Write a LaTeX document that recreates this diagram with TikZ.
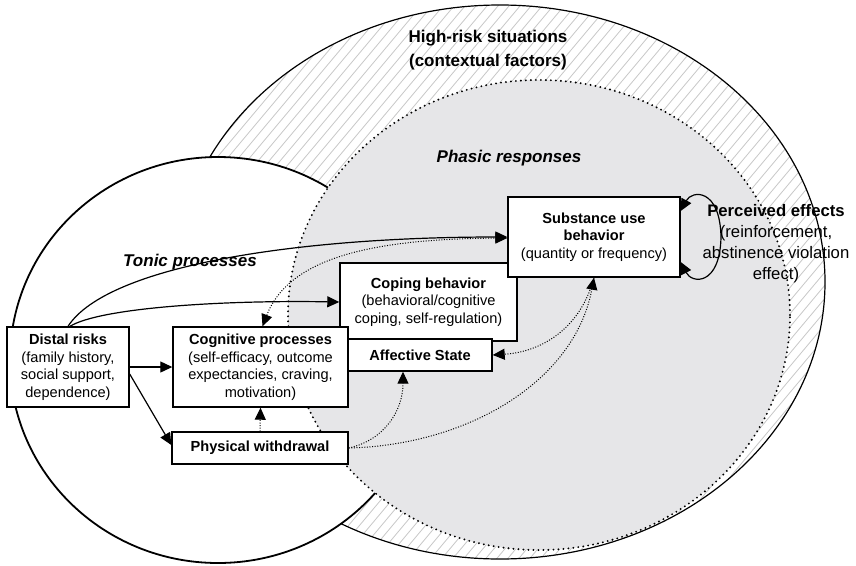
\documentclass[tikz,border=0pt]{standalone}
\usepackage{fontspec}
\setmainfont{Liberation Sans}
\usetikzlibrary{arrows.meta}
\definecolor{phasicgray}{RGB}{230,230,232}
\definecolor{hatchgray}{RGB}{200,200,200}
\newcommand\boxfont{\fontsize{14.6}{17.5}\selectfont}
\newcommand\titlefont{\fontsize{17}{24}\selectfont\bfseries}
\newcommand\regionfont{\fontsize{17}{20}\selectfont\bfseries\itshape}
\newcommand\effectfont{\fontsize{16.7}{21}\selectfont}

\begin{document}
\begin{tikzpicture}[x=1pt,y=-1pt,
  >={Triangle[length=12pt,width=11pt]},
  box/.style={draw=black, fill=white, line width=1.4pt, inner sep=0pt,
              align=center, font=\boxfont},
  label/.style={inner sep=0pt, align=center},
  arr/.style={->, line width=1.2pt},
  dotarr/.style={line width=1pt, dash pattern=on 1pt off 1.6pt}]
\useasboundingbox (0,0) rectangle (856,565);

% high-risk situations: hatched ellipse
\begin{scope}
  \clip (500,282) ellipse [x radius=325pt, y radius=277pt];
  \fill[white] (0,0) rectangle (856,565);
  \foreach \k in {-32,...,76}
    \draw[hatchgray, line width=0.8pt] ({\k*11},600) -- ++(503,-600);
\end{scope}
\draw[line width=1.2pt] (500,282) ellipse [x radius=325pt, y radius=277pt];

% tonic processes
\draw[fill=white, line width=1.8pt] (218,360) ellipse [x radius=208pt, y radius=203pt];

% phasic responses
\draw[fill=phasicgray, line width=2.1pt, dash pattern=on 0pt off 5pt, line cap=round]
  (539,315) ellipse [x radius=251pt, y radius=235pt];

% region labels
\node[label, font=\titlefont] (hrs) at (488,50) {High-risk situations\\(contextual factors)};
\node[label, font=\regionfont] (tonic) at (190,262) {Tonic processes};
\node[label, font=\regionfont] (phasic) at (509,158) {Phasic responses};
\node[label, font=\effectfont] (perc) at (776,244)
  {\textbf{Perceived effects}\\(reinforcement,\\abstinence violation\\effect)};

% boxes
\node[box, minimum width=177pt, minimum height=78pt] (cope) at (428.5,302)
  {\textbf{Coping behavior}\\(behavioral/cognitive\\coping, self-regulation)};
\node[box, minimum width=122pt, minimum height=80pt] (distal) at (68,367)
  {\textbf{Distal risks}\\(family history,\\social support,\\dependence)};
\node[box, minimum width=175pt, minimum height=80pt] (cog) at (260.5,367)
  {\textbf{Cognitive processes}\\(self-efficacy, outcome\\expectancies, craving,\\motivation)};
\node[box, minimum width=144pt, minimum height=32pt] (aff) at (420,355)
  {\textbf{Affective State}};
\node[box, minimum width=172pt, minimum height=80pt] (sub) at (594,237)
  {\textbf{Substance use}\\\textbf{behavior}\\(quantity or frequency)};
\node[box, minimum width=176pt, minimum height=32pt] (phys) at (260,448)
  {\textbf{Physical withdrawal}};

% solid paths from distal risks
\draw[arr] (distal.north) .. controls (108,265) and (300,237) .. (sub.west);
\draw[arr] ([xshift=2pt]distal.north) .. controls (100,308) and (220,300) .. (cope.west);
\draw[arr] (distal.east) -- (cog.west);
\draw[arr] ([yshift=-7pt]distal.east) -- ([yshift=3pt]phys.west);

% dotted influences
\draw[dotarr, <->] ([xshift=2pt]cog.north) .. controls (290,255) and (380,239) .. ([yshift=-1pt]sub.west);
\draw[dotarr, ->] (phys.north) -- (cog.south);
\draw[dotarr, ->] (phys.east) .. controls (385,440) and (403,410) .. ([xshift=-17pt]aff.south);
\draw[dotarr, ->] (phys.east) .. controls (470,445) and (575,380) .. (sub.south);
\draw[dotarr, ->] (sub.south) .. controls (580,330) and (540,352) .. (aff.east);

% perceived effects feedback loop
\draw[line width=1.2pt, <->] ([yshift=26pt]sub.east) .. controls (692,190) and (720,188) .. (721,237)
  .. controls (720,286) and (692,284) .. ([yshift=-25pt]sub.east);
\end{tikzpicture}
\end{document}
